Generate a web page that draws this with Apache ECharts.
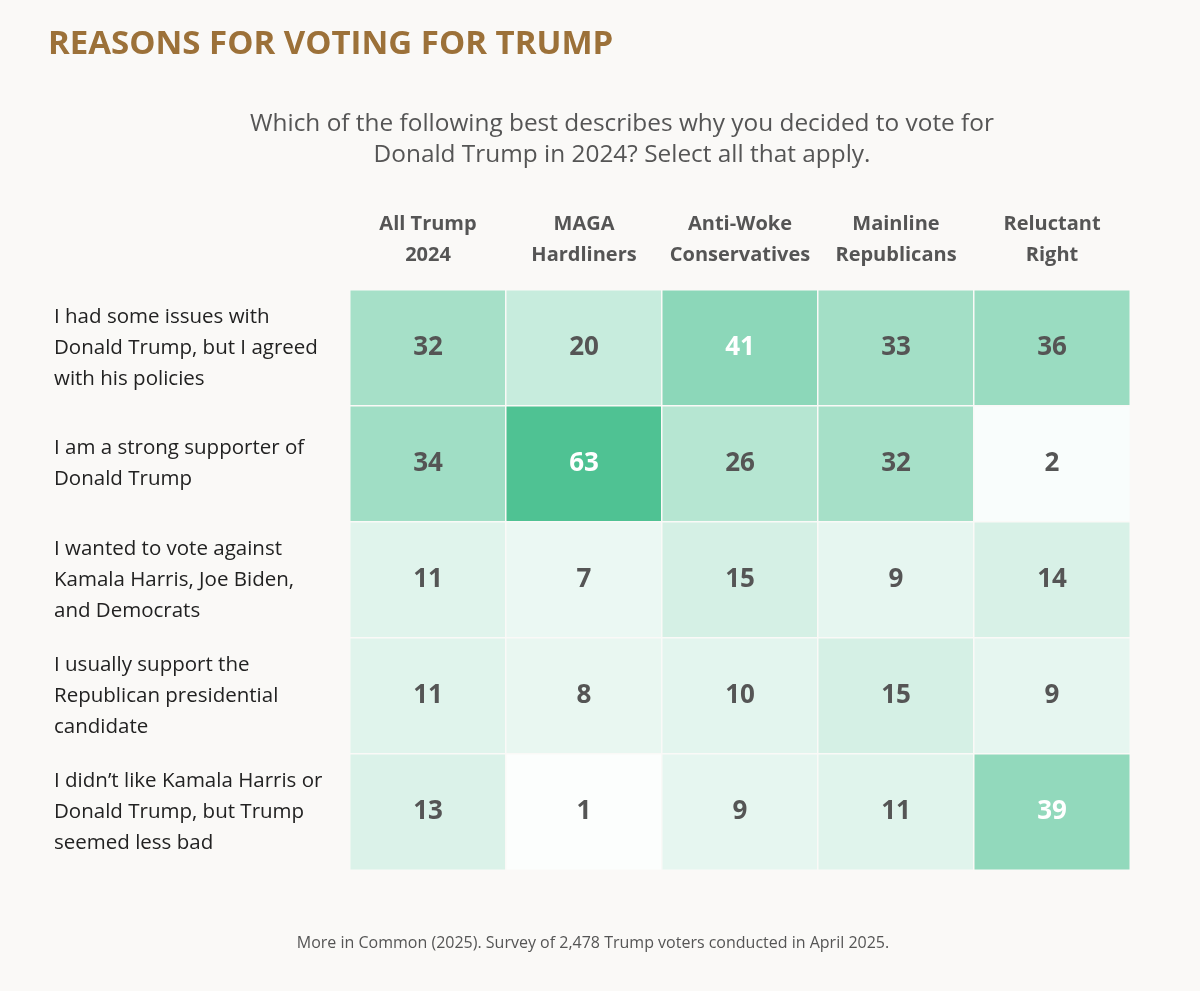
<!DOCTYPE html>
<html>
<head>
<meta charset="utf-8">
<title>Reasons for voting for Trump</title>
<script src="https://cdn.jsdelivr.net/npm/echarts@6/dist/echarts.min.js"></script>
<style>
  html, body { margin: 0; padding: 0; background: #faf9f7; }
  #chart { width: 1200px; height: 991px; }
</style>
</head>
<body>
<div id="chart"></div>
<script>
// 分组（列）
const groups = ['All Trump\n2024', 'MAGA\nHardliners', 'Anti-Woke\nConservatives', 'Mainline\nRepublicans', 'Reluctant\nRight'];

// 原因（行，从上到下）
const reasons = [
    'I had some issues with\nDonald Trump, but I agreed\nwith his policies',
    'I am a strong supporter of\nDonald Trump',
    'I wanted to vote against\nKamala Harris, Joe Biden,\nand Democrats',
    'I usually support the\nRepublican presidential\ncandidate',
    'I didn\u2019t like Kamala Harris or\nDonald Trump, but Trump\nseemed less bad'
];

// 每行的百分比
const policies = [32, 20, 41, 33, 36];
const strongSupporter = [34, 63, 26, 32, 2];
const againstDems = [11, 7, 15, 9, 14];
const usuallyRepublican = [11, 8, 10, 15, 9];
const lessBad = [13, 1, 9, 11, 39];

const rows = [policies, strongSupporter, againstDems, usuallyRepublican, lessBad];

const font = '"Open Sans", Lato, sans-serif';
const bg = '#faf9f7';

// 组装热力图数据
const heatData = [];
rows.forEach((vals, r) => {
    vals.forEach((v, c) => {
        heatData.push({
            value: [c, r, v],
            label: { color: v >= 38 ? '#ffffff' : '#555555' }
        });
    });
});

const chart = echarts.init(document.getElementById('chart'));

chart.setOption({
    backgroundColor: bg,
    animation: false,
    title: [
        {
            text: 'REASONS FOR VOTING FOR TRUMP',
            left: 43,
            top: 23,
            textStyle: { fontFamily: font, fontSize: 33, fontWeight: 'bold', color: '#9c7139' }
        },
        {
            text: 'Which of the following best describes why you decided to vote for\nDonald Trump in 2024? Select all that apply.',
            left: 617,
            top: 104,
            textAlign: 'center',
            textStyle: { fontFamily: font, fontSize: 24.4, fontWeight: 'normal', color: '#555555', lineHeight: 31, align: 'center' }
        },
        {
            text: 'More in Common (2025). Survey of 2,478 Trump voters conducted in April 2025.',
            left: 588,
            top: 930,
            textAlign: 'center',
            textStyle: { fontFamily: font, fontSize: 16, fontWeight: 'normal', color: '#555555' }
        }
    ],
    grid: { left: 350, right: 70, top: 290, bottom: 121 },
    xAxis: {
        type: 'category',
        data: groups,
        position: 'top',
        axisLine: { show: false },
        axisTick: { show: false },
        splitLine: { show: false },
        axisLabel: {
            interval: 0,
            margin: 19,
            fontFamily: font,
            fontSize: 20,
            fontWeight: 'bold',
            color: '#555555',
            lineHeight: 31,
            align: 'center'
        }
    },
    yAxis: {
        type: 'category',
        data: reasons,
        inverse: true,
        axisLine: { show: false },
        axisTick: { show: false },
        splitLine: { show: false },
        axisLabel: {
            interval: 0,
            margin: 296,
            align: 'left',
            fontFamily: font,
            fontSize: 20.5,
            color: '#222222',
            lineHeight: 31
        }
    },
    visualMap: {
        show: false,
        type: 'continuous',
        min: 0,
        max: 63,
        dimension: 2,
        inRange: { color: ['#ffffff', '#4fc293'] }
    },
    series: [{
        type: 'heatmap',
        data: heatData,
        itemStyle: { borderColor: bg, borderWidth: 1.5 },
        label: {
            show: true,
            formatter: p => p.value[2],
            fontFamily: font,
            fontSize: 26,
            fontWeight: 'bold'
        },
        emphasis: { disabled: true }
    }]
});

window.addEventListener('resize', function () {
    chart.resize();
});
</script>
</body>
</html>
